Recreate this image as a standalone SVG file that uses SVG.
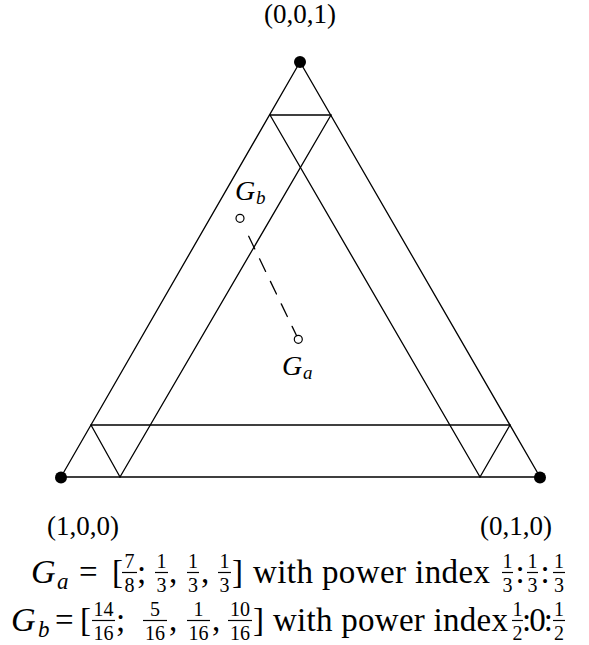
<svg xmlns="http://www.w3.org/2000/svg" width="589" height="645" viewBox="0 0 589 645">
<style>
  .ln { stroke:#000; stroke-width:1.3; fill:none; stroke-linecap:round; }
  .bar { stroke:#000; stroke-width:1.2; }
  .dot { fill:#000; }
  .pt { fill:none; stroke:#000; stroke-width:1.2; }
  text { font-family:"Liberation Serif","DejaVu Serif",serif; fill:#000; }
  .lbl { font-size:27px; text-anchor:middle; }
  .mi { font-style:italic; font-size:34px; }
  .sub { font-style:italic; font-size:23px; }
  .rm { font-size:33px; }
  .fr { font-size:20px; text-anchor:middle; }
  .gl { font-style:italic; font-size:28px; }
  .gs { font-style:italic; font-size:19px; }
</style>

<g id="triangle">
  <polygon class="ln" points="300,62 61,477 540,477"/>
  <line class="ln" x1="270" y1="115" x2="331" y2="115"/>
  <line class="ln" x1="331" y1="115" x2="120" y2="477"/>
  <line class="ln" x1="270" y1="115" x2="480" y2="477"/>
  <line class="ln" x1="91" y1="425" x2="510" y2="425"/>
  <line class="ln" x1="91" y1="425" x2="120" y2="477"/>
  <line class="ln" x1="510" y1="425" x2="480" y2="477"/>
</g>

<g id="connectors">
  <line class="ln" x1="248.7" y1="236.3" x2="296.6" y2="335.7" stroke-dasharray="14 11" stroke-linecap="butt"/>
</g>

<g id="v001">
  <circle class="dot" cx="300" cy="62" r="6"/>
  <text class="lbl" x="300" y="23">(0,0,1)</text>
</g>
<g id="v100">
  <circle class="dot" cx="61" cy="477.5" r="6"/>
  <text class="lbl" x="83" y="535">(1,0,0)</text>
</g>
<g id="v010">
  <circle class="dot" cx="540" cy="477.5" r="6"/>
  <text class="lbl" x="516" y="535">(0,1,0)</text>
</g>

<g id="Gb">
  <circle class="pt" cx="240" cy="218.3" r="4"/>
  <text class="gl" x="235" y="200">G</text>
  <text class="gs" x="256" y="204">b</text>
</g>
<g id="Ga">
  <circle class="pt" cx="298.3" cy="339.3" r="4"/>
  <text class="gl" x="282" y="375">G</text>
  <text class="gs" x="303" y="379">a</text>
</g>

<g id="caption1">
  <text class="mi" x="31" y="583">G</text>
  <text class="sub" x="57" y="589">a</text>
  <text class="rm" x="79" y="583">=</text>
  <text class="rm" x="112" y="583">[</text>
  <text class="fr" x="129.5" y="568">7</text><line class="bar" x1="122" y1="572.5" x2="137" y2="572.5"/><text class="fr" x="129.5" y="592">8</text>
  <text class="rm" x="137" y="583">;</text>
  <text class="fr" x="161.5" y="568">1</text><line class="bar" x1="155" y1="572.5" x2="168" y2="572.5"/><text class="fr" x="161.5" y="592">3</text>
  <text class="rm" x="169" y="583">,</text>
  <text class="fr" x="193" y="568">1</text><line class="bar" x1="187" y1="572.5" x2="199" y2="572.5"/><text class="fr" x="193" y="592">3</text>
  <text class="rm" x="201" y="583">,</text>
  <text class="fr" x="224.5" y="568">1</text><line class="bar" x1="218" y1="572.5" x2="231" y2="572.5"/><text class="fr" x="224.5" y="592">3</text>
  <text class="rm" x="232" y="583">]</text>
  <text class="rm" x="253" y="583" textLength="237" lengthAdjust="spacing">with power index</text>
  <text class="fr" x="507.5" y="568">1</text><line class="bar" x1="502" y1="572.5" x2="513" y2="572.5"/><text class="fr" x="507.5" y="592">3</text>
  <text class="rm" x="515.5" y="583">:</text>
  <text class="fr" x="532.5" y="568">1</text><line class="bar" x1="527" y1="572.5" x2="538" y2="572.5"/><text class="fr" x="532.5" y="592">3</text>
  <text class="rm" x="540.5" y="583">:</text>
  <text class="fr" x="559" y="568">1</text><line class="bar" x1="553" y1="572.5" x2="565" y2="572.5"/><text class="fr" x="559" y="592">3</text>
</g>

<g id="caption2">
  <text class="mi" x="11" y="631">G</text>
  <text class="sub" x="38" y="637">b</text>
  <text class="rm" x="55" y="631">=</text>
  <text class="rm" x="80" y="631">[</text>
  <text class="fr" x="103.5" y="616">14</text><line class="bar" x1="92" y1="620.5" x2="115" y2="620.5"/><text class="fr" x="103.5" y="640">16</text>
  <text class="rm" x="116" y="631">;</text>
  <text class="fr" x="155" y="616">5</text><line class="bar" x1="143" y1="620.5" x2="167" y2="620.5"/><text class="fr" x="155" y="640">16</text>
  <text class="rm" x="169" y="631">,</text>
  <text class="fr" x="198.5" y="616">1</text><line class="bar" x1="187" y1="620.5" x2="210" y2="620.5"/><text class="fr" x="198.5" y="640">16</text>
  <text class="rm" x="212" y="631">,</text>
  <text class="fr" x="240" y="616">10</text><line class="bar" x1="228" y1="620.5" x2="252" y2="620.5"/><text class="fr" x="240" y="640">16</text>
  <text class="rm" x="253" y="631">]</text>
  <text class="rm" x="273" y="631" textLength="235" lengthAdjust="spacing">with power index</text>
  <text class="fr" x="517.5" y="616">1</text><line class="bar" x1="512" y1="620.5" x2="523" y2="620.5"/><text class="fr" x="517.5" y="640">2</text>
  <text class="rm" x="522" y="631" textLength="31" lengthAdjust="spacing">:0:</text>
  <text class="fr" x="559" y="616">1</text><line class="bar" x1="553" y1="620.5" x2="565" y2="620.5"/><text class="fr" x="559" y="640">2</text>
</g>
</svg>
